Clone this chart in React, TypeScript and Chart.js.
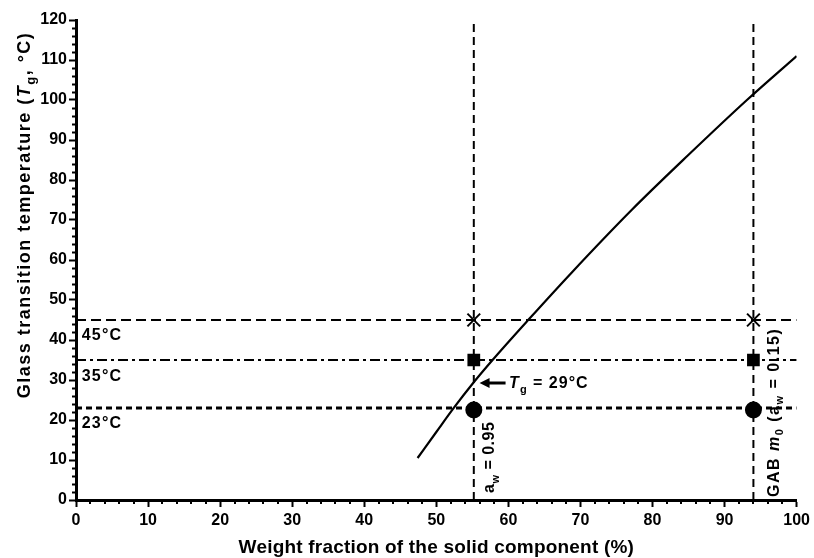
import React, { useEffect, useRef } from 'react';
import { Chart, registerables } from 'chart.js';

Chart.register(...registerables);

// ---- data ----
const solidFraction = [47.4, 50, 52.5, 55, 57.8, 62.9, 68.8, 77.1, 85, 93.1, 100];
const glassTemp = [10.5, 17, 23.2, 29, 35, 45.3, 56.9, 72.5, 86.3, 100, 111];
const storageTemps = [45, 35, 23];
const storageLabels = ['45°C', '35°C', '23°C'];
const refFractions = [55.2, 94];
const crossTemp = 45;
const squareTemp = 35;
const circleTemp = 22.5;
const tgValue = 29;
const xRange = [0, 100];
const yRange = [0, 120];
const tickStep = 10;
const minorStep = 2;

const FONT = '"Liberation Sans", Arial, Helvetica, sans-serif';

type Seg = { t: string; italic?: boolean; sub?: boolean };

function drawRich(
  ctx: CanvasRenderingContext2D,
  segs: Seg[],
  x: number,
  y: number,
  size: number,
  opts: { rotate?: boolean; align?: 'left' | 'center'; ls?: number } = {}
) {
  ctx.save();
  ctx.translate(x, y);
  if (opts.rotate) ctx.rotate(-Math.PI / 2);
  const ls = opts.ls ?? 0;
  (ctx as any).letterSpacing = `${ls}px`;
  const fontFor = (s: Seg) =>
    `${s.italic ? 'italic ' : ''}bold ${s.sub ? Math.round(size * 0.7) : size}px ${FONT}`;
  let total = 0;
  for (const s of segs) {
    ctx.font = fontFor(s);
    total += ctx.measureText(s.t).width;
  }
  let cx = opts.align === 'center' ? -total / 2 : 0;
  ctx.textAlign = 'left';
  ctx.textBaseline = 'alphabetic';
  ctx.fillStyle = '#000';
  for (const s of segs) {
    ctx.font = fontFor(s);
    ctx.fillText(s.t, cx, s.sub ? size * 0.3 : 0);
    cx += ctx.measureText(s.t).width;
  }
  ctx.restore();
}

const annotationPlugin = {
  id: 'annotations',
  afterDraw(chart: any) {
    const ctx: CanvasRenderingContext2D = chart.ctx;
    const xs = chart.scales.x;
    const ys = chart.scales.y;
    const area = chart.chartArea;
    ctx.save();
    // minor ticks
    ctx.strokeStyle = '#000';
    ctx.lineWidth = 2;
    ctx.beginPath();
    for (let v = yRange[0]; v <= yRange[1]; v += minorStep) {
      if (v % tickStep === 0) continue;
      const py = Math.round(ys.getPixelForValue(v)) + 0.5;
      ctx.moveTo(area.left - 4, py);
      ctx.lineTo(area.left, py);
    }
    for (let v = xRange[0]; v <= xRange[1]; v += minorStep) {
      if (v % tickStep === 0) continue;
      const px = Math.round(xs.getPixelForValue(v));
      ctx.moveTo(px, area.bottom);
      ctx.lineTo(px, area.bottom + 4);
    }
    ctx.stroke();

    // storage temperature labels
    const labelY = [40, 29.75, 18];
    storageLabels.forEach((lab, i) => {
      drawRich(ctx, [{ t: lab }], xs.getPixelForValue(0.8), ys.getPixelForValue(labelY[i]), 16, { ls: 1.2 });
    });

    // arrow to Tg
    const tipX = xs.getPixelForValue(56.0);
    const tipY = ys.getPixelForValue(tgValue + 0.25);
    ctx.fillStyle = '#000';
    ctx.beginPath();
    ctx.moveTo(tipX, tipY);
    ctx.lineTo(tipX + 10, tipY - 5);
    ctx.lineTo(tipX + 10, tipY + 5);
    ctx.closePath();
    ctx.fill();
    ctx.lineWidth = 3;
    ctx.beginPath();
    ctx.moveTo(tipX + 9, tipY);
    ctx.lineTo(tipX + 26, tipY);
    ctx.stroke();

    drawRich(
      ctx,
      [{ t: 'T', italic: true }, { t: 'g', sub: true }, { t: ` = ${tgValue}°C` }],
      xs.getPixelForValue(60.1),
      ys.getPixelForValue(28),
      16,
      { ls: 1 }
    );

    drawRich(
      ctx,
      [{ t: 'a' }, { t: 'w', sub: true }, { t: ' = 0.95' }],
      xs.getPixelForValue(58.0),
      ys.getPixelForValue(1.75),
      16,
      { rotate: true, ls: 0.5 }
    );

    drawRich(
      ctx,
      [
        { t: 'GAB ' },
        { t: 'm', italic: true },
        { t: '0', sub: true },
        { t: ' (a' },
        { t: 'w', sub: true },
        { t: ' = 0.15)' },
      ],
      xs.getPixelForValue(97.5),
      ys.getPixelForValue(0.75),
      16,
      { rotate: true, ls: 1.5 }
    );

    // axis titles
    drawRich(
      ctx,
      [
        { t: 'Glass transition temperature (' },
        { t: 'T', italic: true },
        { t: 'g', sub: true },
        { t: ', °C)' },
      ],
      30,
      215,
      18,
      { rotate: true, align: 'center', ls: 1.5 }
    );
    drawRich(
      ctx,
      [{ t: 'Weight fraction of the solid component (%)' }],
      (area.left + area.right) / 2,
      553,
      19,
      { align: 'center', ls: 0.2 }
    );
    ctx.restore();
  },
};

function hLine(v: number) {
  return [
    { x: xRange[0], y: v },
    { x: xRange[1], y: v },
  ];
}
function vLine(v: number) {
  return [
    { x: v, y: yRange[0] },
    { x: v, y: yRange[1] },
  ];
}

export default function App() {
  const ref = useRef<HTMLCanvasElement | null>(null);
  useEffect(() => {
    if (!ref.current) return;
    const lineBase = {
      showLine: true,
      borderColor: '#000',
      pointRadius: 0,
      fill: false,
    };
    const hDashes = [[10, 5], [10, 4, 3, 4], [6, 4]];
    const hWidths = [2, 2, 3];
    const chart = new Chart(ref.current, {
      type: 'scatter',
      data: {
        datasets: [
          {
            ...lineBase,
            data: solidFraction.map((x, i) => ({ x, y: glassTemp[i] })),
            borderWidth: 2.2,
            cubicInterpolationMode: 'monotone',
          } as any,
          ...storageTemps.map((t, i) => ({
            ...lineBase,
            data: hLine(t),
            borderWidth: hWidths[i],
            borderDash: hDashes[i],
          })),
          ...refFractions.map((f) => ({
            ...lineBase,
            data: vLine(f),
            borderWidth: 2,
            borderDash: [8, 5],
          })),
          {
            data: refFractions.map((x) => ({ x, y: crossTemp })),
            pointStyle: 'crossRot',
            pointRadius: 9,
            borderWidth: 2,
            borderColor: '#000',
            backgroundColor: '#000',
          },
          {
            data: refFractions.map((x) => ({ x, y: squareTemp })),
            pointStyle: 'rect',
            pointRadius: 9,
            borderWidth: 0,
            borderColor: '#000',
            backgroundColor: '#000',
          },
          {
            data: refFractions.map((x) => ({ x, y: circleTemp })),
            pointStyle: 'circle',
            pointRadius: 8.5,
            borderWidth: 0,
            borderColor: '#000',
            backgroundColor: '#000',
          },
        ],
      },
      options: {
        animation: false,
        responsive: true,
        maintainAspectRatio: false,
        layout: { padding: { top: 20, right: 16, left: 0, bottom: 0 } },
        plugins: { legend: { display: false }, tooltip: { enabled: false } },
        scales: {
          x: {
            type: 'linear',
            min: xRange[0],
            max: xRange[1],
            afterFit: (s: any) => {
              s.height = 58;
            },
            ticks: {
              stepSize: tickStep,
              color: '#000',
              padding: 4,
              font: { family: FONT, size: 16, weight: 'bold' },
            },
            grid: {
              drawOnChartArea: false,
              drawTicks: true,
              tickLength: 7,
              tickWidth: 2,
              tickColor: '#000',
            },
            border: { display: true, color: '#000', width: 3 },
          },
          y: {
            type: 'linear',
            min: yRange[0],
            max: yRange[1],
            afterFit: (s: any) => {
              s.width = 76;
            },
            ticks: {
              stepSize: tickStep,
              color: '#000',
              padding: 2,
              font: { family: FONT, size: 16, weight: 'bold' },
            },
            grid: {
              drawOnChartArea: false,
              drawTicks: true,
              tickLength: 7,
              tickWidth: 2,
              tickColor: '#000',
            },
            border: { display: true, color: '#000', width: 3 },
          },
        },
      },
      plugins: [annotationPlugin],
    } as any);
    return () => chart.destroy();
  }, []);
  return (
    <div style={{ position: 'fixed', left: 0, top: 0, width: 814, height: 558, background: '#fff' }}>
      <canvas ref={ref} />
    </div>
  );
}
